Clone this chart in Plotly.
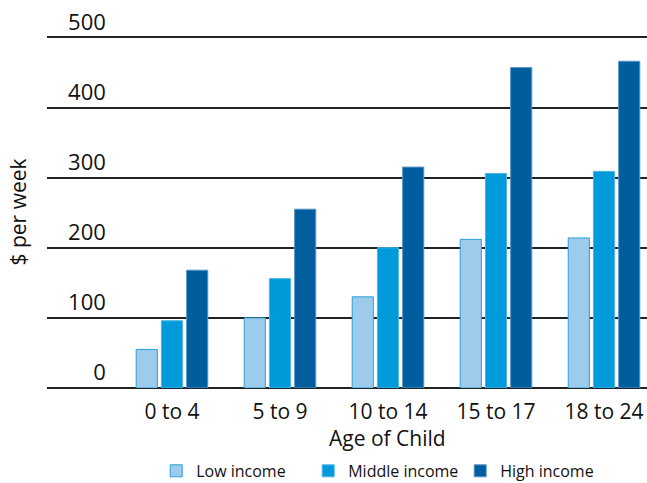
import plotly.graph_objects as go

# Weekly cost of children by age group and household income
age_groups = ["0 to 4", "5 to 9", "10 to 14", "15 to 17", "18 to 24"]
low_income = [55, 100, 130, 212, 214]
middle_income = [96, 156, 200, 306, 309]
high_income = [168, 255, 315, 457, 466]

y_ticks = [0, 100, 200, 300, 400, 500]

series = [
    ("Low income", low_income, "#9dcbec", "#2a9fdb"),
    ("Middle income", middle_income, "#009ada", "#4fb6e6"),
    ("High income", high_income, "#005e9f", "#5b94c6"),
]

fig = go.Figure()
for name, vals, fill, edge in series:
    fig.add_trace(go.Bar(
        x=age_groups, y=vals, name=name,
        marker=dict(color=fill, line=dict(color=edge, width=1)),
    ))

font_family = "Open Sans"

fig.update_layout(
    width=647, height=483,
    margin=dict(l=47, r=0, t=36, b=95, autoexpand=False),
    plot_bgcolor="white", paper_bgcolor="white",
    barmode="group", bargap=0.30, bargroupgap=0.16,
    font=dict(family=font_family, color="#111111"),
    showlegend=True,
    legend=dict(
        orientation="h", xref="paper", x=0.182, xanchor="left",
        yref="container", y=0.025, yanchor="middle",
        entrywidth=107, entrywidthmode="pixels",
        font=dict(size=16, family=font_family, color="#111111"),
        traceorder="normal", itemclick=False,
    ),
    xaxis=dict(
        type="category", range=[-1.157, 4.398],
        showgrid=False, showline=False, zeroline=False, ticks="",
        tickfont=dict(size=21), ticklabelstandoff=9, automargin=False,
    ),
    yaxis=dict(
        range=[0, 502], tickvals=y_ticks, ticktext=[str(v) for v in y_ticks],
        anchor="free", position=0.098,
        ticklabelposition="outside top",
        showgrid=True, gridcolor="#222222", gridwidth=1.5,
        zeroline=True, zerolinecolor="#222222", zerolinewidth=1.5,
        showline=False, ticks="", automargin=False,
        tickfont=dict(size=22),
        title=dict(text="$ per week", font=dict(size=21), standoff=34),
    ),
    annotations=[dict(
        text="Age of Child", xref="x", yref="paper", x=2, y=-0.143,
        xanchor="center", yanchor="middle", showarrow=False,
        font=dict(size=21, family=font_family, color="#111111"),
    )],
)

fig.write_html("out.html")
